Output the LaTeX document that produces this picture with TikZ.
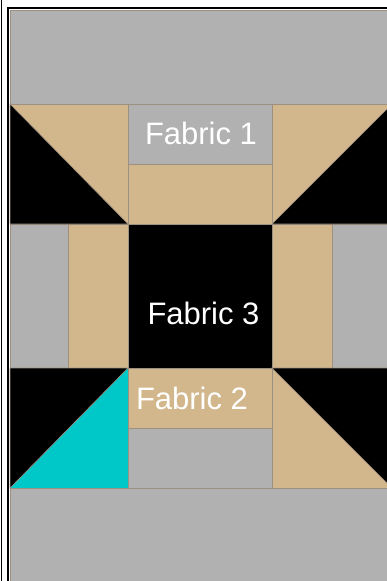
\documentclass[tikz,border=0pt]{standalone}
\usepackage{fontspec}
\setmainfont{Liberation Sans}
\usepackage{xcolor}
\usepackage{tikz}
\usetikzlibrary{positioning}
\definecolor{quiltgray}{HTML}{B1B1B1}
\definecolor{quilttan}{HTML}{D2B68C}
\definecolor{quiltcyan}{HTML}{00C8C8}
\definecolor{seamline}{HTML}{9E9080}

\begin{document}
\begin{tikzpicture}[
    x=1pt, y=-1pt,
    patch/.style={fill=#1, draw=seamline, line width=0.8pt},
    halfsq/.style={fill=#1, draw=seamline, line width=0.6pt},
    fabrictext/.style={text=white, inner sep=0pt, font=\fontsize{31}{37}\selectfont}
]
\useasboundingbox (0,0) rectangle (387,581);
\clip (0,0) rectangle (387,581);

% plain patches: x1/y1/x2/y2/colour
\foreach \xa/\ya/\xb/\yb/\col in {
    10/10/392/104/quiltgray, 10/488/392/600/quiltgray,
    10/104/128/224/quilttan, 272/104/392/224/quilttan,
    128/104/272/164/quiltgray, 128/164/272/224/quilttan,
    10/224/68/368/quiltgray, 68/224/128/368/quilttan,
    128/224/272/368/black,
    272/224/332/368/quilttan, 332/224/392/368/quiltgray,
    10/368/128/488/quiltcyan, 272/368/392/488/quilttan,
    128/368/272/428/quilttan, 128/428/272/488/quiltgray}
  \draw[patch=\col] (\xa,\ya) rectangle (\xb,\yb);

% half-square triangles
\draw[halfsq=black] (10,104) -- (128,224) -- (10,224) -- cycle;
\draw[halfsq=black] (392,104) -- (272,224) -- (392,224) -- cycle;
\draw[halfsq=black] (10,368) -- (128,368) -- (10,488) -- cycle;
\draw[halfsq=black] (272,368) -- (392,368) -- (392,488) -- cycle;

% frame
\draw[line width=1.5pt] (1.5,0) -- (1.5,581);
\draw[line width=2pt] (8,581) -- (8,8) -- (387,8);

\node[fabrictext] (fabric1) at (201,133)   {Fabric 1};
\node[fabrictext] (fabric3) at (203.5,313) {Fabric 3};
\node[fabrictext] (fabric2) at (192,398.5) {Fabric 2};
\end{tikzpicture}
\end{document}
